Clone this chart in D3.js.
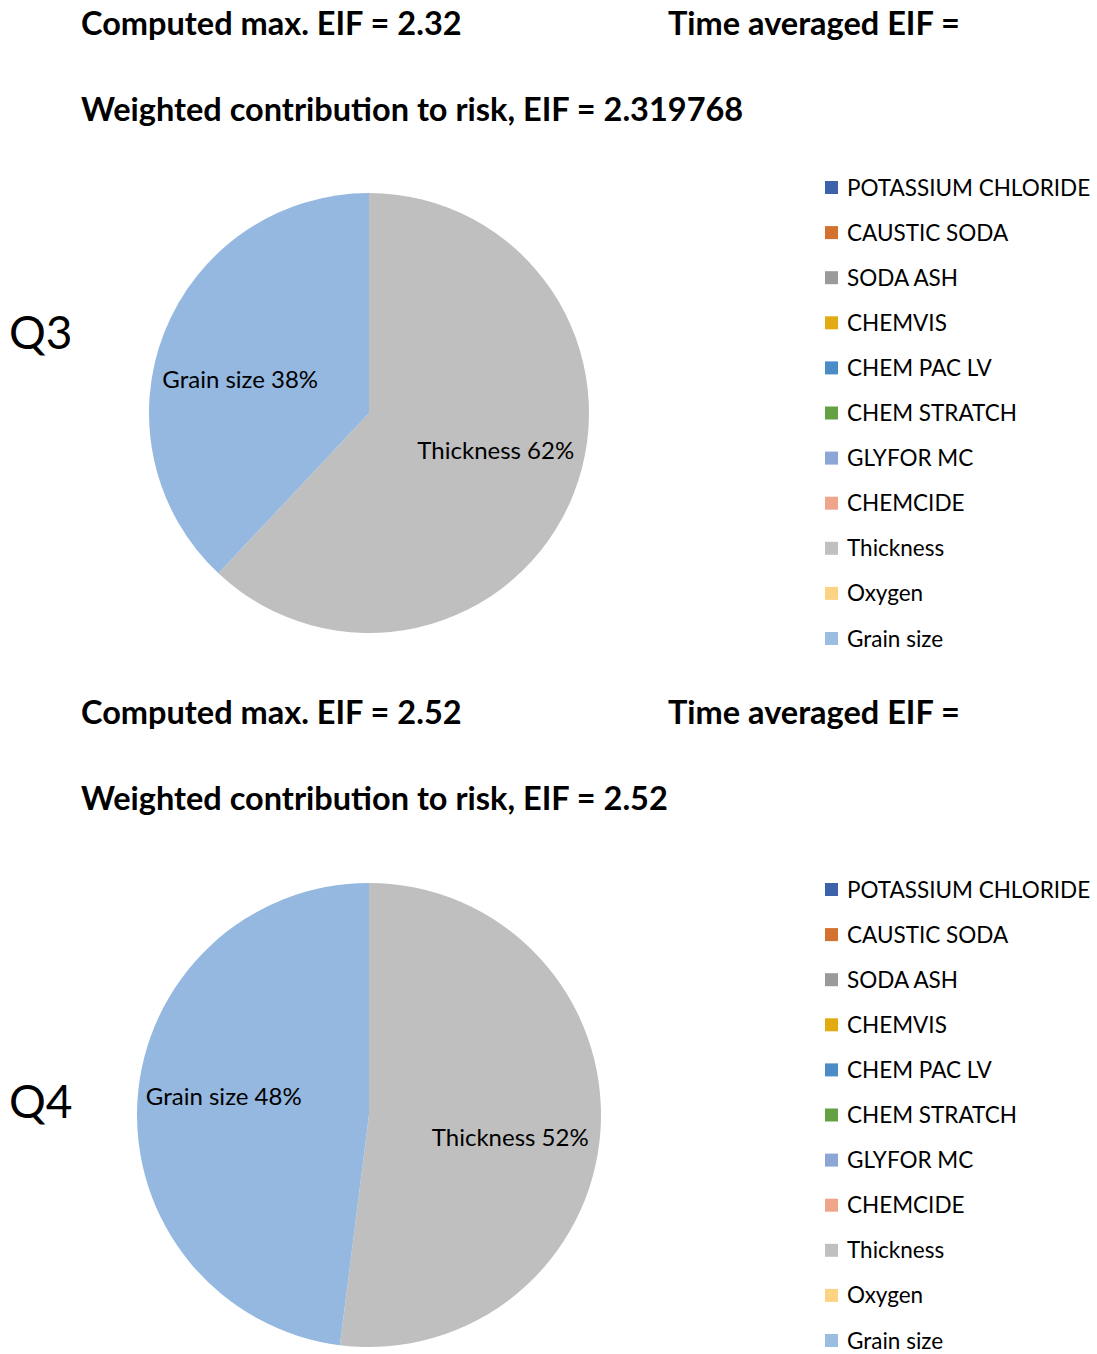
<!DOCTYPE html>
<html>
<head>
<meta charset="utf-8">
<script src="https://cdn.jsdelivr.net/npm/d3@7"></script>
<style>
  html, body { margin: 0; padding: 0; background: #fff; }
  svg { display: block; }
</style>
</head>
<body>
<svg id="chart" width="1097" height="1354"></svg>
<script>
// Quarterly EIF contribution panels
const quarters = ["Q3", "Q4"];
const maxEIF = ["2.32", "2.52"];
const weightedEIF = ["2.319768", "2.52"];

// Slice values (percent), drawn clockwise from 12 o'clock
const sliceNames = ["Thickness", "Grain size"];
const q3Values = [62, 38];
const q4Values = [52, 48];
const quarterValues = [q3Values, q4Values];

// Legend entries and their colours
const legendNames = [
  "POTASSIUM CHLORIDE", "CAUSTIC SODA", "SODA ASH", "CHEMVIS", "CHEM PAC LV",
  "CHEM STRATCH", "GLYFOR MC", "CHEMCIDE", "Thickness", "Oxygen", "Grain size"
];
const legendColors = [
  "#3b62ab", "#d3712f", "#9a9a9a", "#e2ab12", "#4b8bc6",
  "#64a143", "#8ba6d7", "#efa58a", "#c0c0c0", "#fcd382", "#9bbde1"
];

const color = d3.scaleOrdinal().domain(legendNames).range(legendColors);
const sliceFill = { "Thickness": "#bfbfbf", "Grain size": "#95b8e0" };

const svg = d3.select("#chart");
const FONT = "Lato, 'Open Sans', sans-serif";

// Per-panel layout; label nudges keep the slice labels clear of the pie edge
const panels = [
  { top: 0,   cx: 369, cy: 413,  r: 220, qy: 331,
    nudge: { "Thickness": [2, -13], "Grain size": [-4, 15] } },
  { top: 689, cx: 369, cy: 1115, r: 232, qy: 1100,
    nudge: { "Thickness": [0, 13], "Grain size": [-4, -11] } }
];

const pie = d3.pie().sort(null).value(d => d.value).startAngle(0).endAngle(2 * Math.PI);

panels.forEach((p, i) => {
  const g = svg.append("g");

  // Headline text
  const head = (x, y, t) => g.append("text")
    .attr("x", x).attr("y", y)
    .attr("font-family", FONT).attr("font-weight", 700).attr("font-size", 32.5)
    .attr("fill", "#000")
    .text(t);
  head(81, p.top + 35, `Computed max. EIF = ${maxEIF[i]}`);
  head(668, p.top + 35, "Time averaged EIF =");
  head(81, p.top + 121, `Weighted contribution to risk, EIF = ${weightedEIF[i]}`);

  // Quarter tag
  g.append("text")
    .attr("x", 9).attr("y", p.qy)
    .attr("dominant-baseline", "central")
    .attr("font-family", FONT).attr("font-size", 46)
    .attr("fill", "#000")
    .text(quarters[i]);

  // Pie
  const data = sliceNames.map((n, k) => ({ name: n, value: quarterValues[i][k] }));
  const arcs = pie(data);
  const arc = d3.arc().innerRadius(0).outerRadius(p.r);
  const labelArc = d3.arc().innerRadius(p.r * 0.61).outerRadius(p.r * 0.61);

  const pg = g.append("g").attr("transform", `translate(${p.cx},${p.cy})`);
  pg.selectAll("path").data(arcs).join("path")
    .attr("d", arc)
    .attr("fill", d => sliceFill[d.data.name]);

  pg.selectAll("text").data(arcs).join("text")
    .attr("transform", d => {
      const [x, y] = labelArc.centroid(d);
      const [nx, ny] = p.nudge[d.data.name];
      return `translate(${x + nx},${y + ny})`;
    })
    .attr("text-anchor", "middle")
    .attr("dominant-baseline", "central")
    .attr("font-family", FONT).attr("font-size", 24)
    .attr("fill", "#000")
    .text(d => `${d.data.name} ${d.data.value}%`);

  // Legend
  const lg = g.append("g").attr("transform", `translate(825,${p.cy - 226})`);
  const rows = lg.selectAll("g").data(legendNames).join("g")
    .attr("transform", (d, k) => `translate(0,${k * 45.1})`);
  rows.append("rect")
    .attr("x", 0).attr("y", -6).attr("width", 13).attr("height", 13)
    .attr("fill", d => color(d));
  rows.append("text")
    .attr("x", 22).attr("y", 0)
    .attr("dominant-baseline", "central")
    .attr("font-family", FONT).attr("font-size", 22.5)
    .attr("fill", "#000")
    .text(d => d);
});
</script>
</body>
</html>
